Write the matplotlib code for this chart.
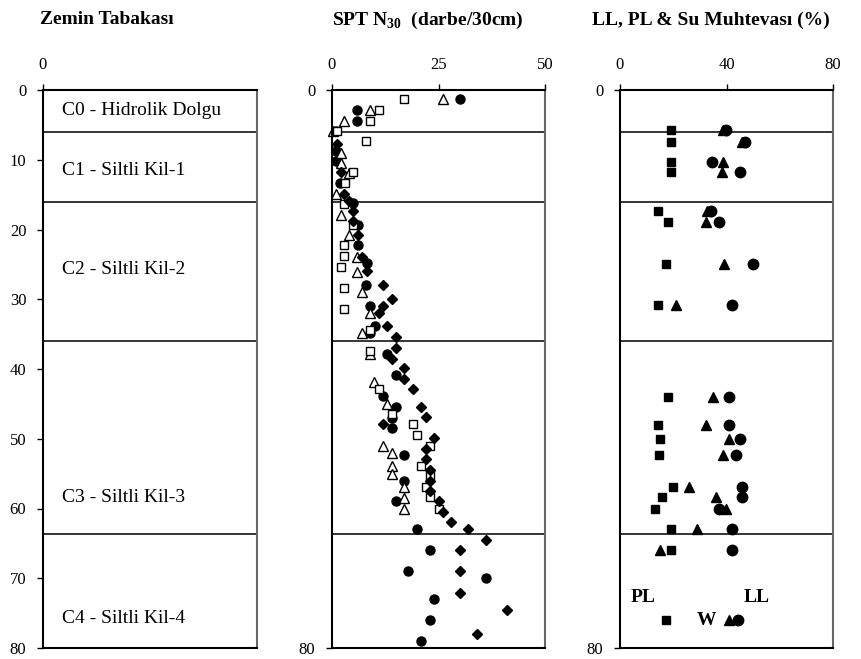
import numpy as np
import matplotlib
matplotlib.use("Agg")
import matplotlib.pyplot as plt

plt.rcParams['font.family'] = ['Liberation Serif', 'DejaVu Serif']
plt.rcParams['mathtext.fontset'] = 'custom'
plt.rcParams['mathtext.rm'] = 'Liberation Serif:bold'
plt.rcParams['mathtext.bf'] = 'Liberation Serif:bold'

# zemin tabakalari (derinlik, m)
layer_bounds = [6, 16, 36, 63.7]
layer_names = ["C0 - Hidrolik Dolgu", "C1 - Siltli Kil-1", "C2 - Siltli Kil-2",
               "C3 - Siltli Kil-3", "C4 - Siltli Kil-4"]
layer_label_depth = [3.0, 11.6, 25.8, 58.4, 75.8]

# SPT N30 - dolu daire
spt_circ_d = [1.3, 2.8, 4.4, 5.9, 8.7, 10.2, 13.4, 16.2, 19.3, 22.2, 24.8, 27.9, 30.9, 33.9,
              34.8, 37.9, 40.9, 43.9, 45.4, 47.0, 48.4, 52.4, 56.0, 58.9, 63.0, 65.9, 69.0,
              70.0, 73.0, 76.0, 79.0]
spt_circ_n = [30.0, 5.9, 5.9, 1.0, 0.9, 0.9, 1.9, 5.0, 6.2, 6.0, 8.1, 8.0, 8.9, 10.1,
              9.0, 13.0, 15.0, 12.0, 15.0, 14.0, 14.0, 17.0, 17.0, 15.0, 19.9, 23.0, 17.9,
              36.1, 24.0, 23.0, 21.0]
# SPT N30 - bos ucgen
spt_tri_d = [1.3, 2.8, 4.4, 5.9, 9.0, 10.4, 11.9, 14.9, 17.9, 20.8, 23.9, 26.1, 29.0, 32.0,
             34.9, 37.9, 41.9, 45.0, 51.0, 52.1, 53.9, 55.0, 56.9, 58.5, 60.0]
spt_tri_n = [26.0, 8.9, 2.9, 0.2, 2.1, 2.0, 4.0, 0.9, 2.0, 4.0, 5.9, 5.9, 7.0, 8.9,
             7.0, 8.9, 9.9, 13.0, 12.0, 14.0, 14.0, 14.0, 17.0, 17.0, 17.0]
# SPT N30 - bos kare
spt_sq_d = [1.3, 2.8, 4.4, 5.9, 7.3, 11.8, 13.4, 16.4, 19.3, 22.2, 23.8, 25.4, 28.4, 31.4,
            34.4, 37.4, 42.9, 46.5, 47.9, 49.4, 51.0, 53.9, 55.4, 56.9, 58.4, 60.0]
spt_sq_n = [17.0, 11.0, 8.9, 1.2, 8.0, 5.0, 3.0, 2.9, 4.9, 2.9, 2.9, 2.0, 2.9, 2.9,
            8.9, 8.9, 11.0, 14.0, 19.1, 20.0, 23.0, 20.9, 23.0, 22.0, 23.0, 25.0]
# SPT N30 - dolu elmas
spt_dia_d = [7.8, 11.8, 14.9, 15.9, 17.4, 18.8, 20.8, 23.9, 26.0, 27.9, 29.9, 30.9, 31.9,
             33.9, 35.4, 37.0, 38.6, 39.9, 41.4, 42.9, 45.4, 46.9, 47.9, 49.9, 51.5, 52.9,
             54.5, 56.0, 57.5, 58.9, 60.5, 62.0, 63.0, 64.5, 65.9, 69.0, 72.1, 74.6, 78.0]
spt_dia_n = [1.1, 2.0, 2.9, 4.1, 4.9, 5.0, 6.0, 7.1, 8.1, 12.0, 14.0, 12.0, 11.0,
             13.0, 15.0, 15.0, 14.0, 17.0, 17.0, 19.1, 21.0, 22.0, 12.0, 24.0, 22.0, 22.0,
             23.0, 23.0, 23.0, 25.0, 26.0, 27.9, 32.0, 36.1, 30.0, 30.0, 30.0, 41.0, 34.0]

# kivam limitleri ve su muhtevasi (%)
lim_d = [5.8, 7.4, 10.3, 11.8, 17.3, 18.9, 24.9, 30.8, 44.0, 48.0, 50.0, 52.4, 56.9,
         58.3, 60.0, 63.0, 66.0, 76.0]
pl = [19.1, 19.1, 19.1, 19.1, 14.2, 18.2, 17.2, 14.2, 17.9, 14.2, 15.0, 14.7, 20.0,
      15.9, 13.2, 19.1, 19.1, 17.2]
w = [38.5, 45.8, 38.6, 38.2, 32.7, 32.2, 39.1, 21.1, 35.1, 32.2, 41.1, 38.6, 25.9,
     36.0, 39.7, 28.8, 15.0, 41.1]
ll = [39.8, 47.0, 34.5, 45.1, 34.1, 37.2, 50.1, 42.0, 41.1, 41.1, 45.1, 43.5, 46.0,
      46.0, 37.0, 42.0, 42.0, 44.2]

W, H = 862, 659
fig = plt.figure(figsize=(W / 100, H / 100), dpi=100)


def make_ax(x0, x1):
    ax = fig.add_axes([x0 / W, 11 / H, (x1 - x0) / W, 558 / H])
    ax.set_ylim(80, 0)
    ax.xaxis.tick_top()
    ax.tick_params(direction='out', length=4, width=1, labelsize=12, pad=8)
    for s in ['top', 'left', 'bottom']:
        ax.spines[s].set_linewidth(1.5)
        ax.spines[s].set_color('black')
    ax.spines['right'].set_linewidth(1.5)
    ax.spines['right'].set_color('#666666')
    for b in layer_bounds:
        ax.axhline(b, color='black', lw=1.1)
    return ax


# zemin tabakasi
ax1 = make_ax(43, 257)
ax1.set_xlim(0, 1)
ax1.set_xticks([0])
ax1.set_yticks(np.arange(0, 81, 10))
for name, d in zip(layer_names, layer_label_depth):
    ax1.text(0.09, d, name, fontsize=14, va='center', ha='left')

# SPT
ax2 = make_ax(332, 545)
ax2.set_xlim(0, 50)
ax2.set_xticks([0, 25, 50])
ax2.set_yticks([0, 80])
ax2.plot(spt_circ_n, spt_circ_d, 'o', color='black', ms=6.5, ls='none', clip_on=False)
ax2.plot(spt_tri_n, spt_tri_d, '^', mfc='white', mec='black', mew=1, ms=6.5, ls='none', clip_on=False)
ax2.plot(spt_sq_n, spt_sq_d, 's', mfc='white', mec='black', mew=1, ms=6, ls='none', clip_on=False)
ax2.plot(spt_dia_n, spt_dia_d, 'D', color='black', ms=5, ls='none', clip_on=False)

# LL, PL, W
ax3 = make_ax(620, 833)
ax3.set_xlim(0, 80)
ax3.set_xticks([0, 40, 80])
ax3.set_yticks([0, 80])
ax3.plot(pl, lim_d, 's', color='black', ms=6, ls='none')
ax3.plot(w, lim_d, '^', color='black', ms=6.5, ls='none')
ax3.plot(ll, lim_d, 'o', color='black', ms=7.5, ls='none')
ax3.text(8.5, 72.7, "PL", fontsize=14, fontweight='bold', ha='center', va='center')
ax3.text(51.5, 72.7, "LL", fontsize=14, fontweight='bold', ha='center', va='center')
ax3.text(32.3, 76.0, "W", fontsize=14, fontweight='bold', ha='center', va='center')

# basliklar
fig.text(40 / W, 1 - 20 / H, "Zemin Tabakası", fontsize=14, fontweight='bold', va='center')
fig.text(332 / W, 1 - 20 / H, r"SPT N$_{\mathbf{30}}$  (darbe/30cm)", fontsize=14,
         fontweight='bold', va='center')
fig.text(592 / W, 1 - 20 / H, "LL, PL & Su Muhtevası (%)", fontsize=14,
         fontweight='bold', va='center')

fig.savefig("out.png", dpi=100)
